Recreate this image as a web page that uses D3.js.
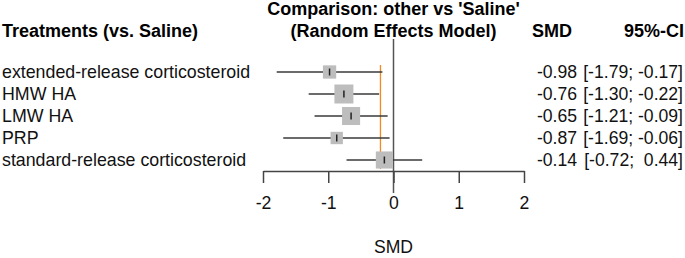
<!DOCTYPE html>
<html lang="en">
<head>
    <meta charset="UTF-8">
    <title>Forest plot - other vs Saline</title>
    <script src="https://cdn.jsdelivr.net/npm/d3@7"></script>
    <style>
        body { margin: 0; background: #fff; }
        text { font-family: "Liberation Sans", Arial, sans-serif; }
    </style>
</head>
<body>
<script type="application/javascript">

    let w = 685, h = 258;

    let treatments = ["extended-release corticosteroid", "HMW HA", "LMW HA", "PRP",
        "standard-release corticosteroid"];
    let smd = [-0.98, -0.76, -0.65, -0.87, -0.14];
    let lower = [-1.79, -1.30, -1.21, -1.69, -0.72];
    let upper = [-0.17, -0.22, -0.09, -0.06, 0.44];
    // relative box size (weight)
    let weights = [0.7, 1.0, 0.95, 0.65, 0.9];
    let xTicks = [-2, -1, 0, 1, 2];
    let refLine = -0.2;

    // plain hyphen minus, like the R output
    let fmt = function(v) { return v.toFixed(2); };
    let ciText = function(i) {
        return "[" + fmt(lower[i]) + "; " + (upper[i] >= 0 ? " " : "") + fmt(upper[i]) + "]";
    };

    //Scales
    let xScale = d3.scaleLinear()
        .domain([-2, 2])
        .range([263, 524]);

    let yScale = d3.scalePoint()
        .domain(treatments)
        .range([72, 160]);

    let boxScale = d3.scaleLinear()
        .domain([0, 1])
        .range([0, 19]);

    let svg = d3.select("body")
        .append("svg")
        .attr("width", w)
        .attr("height", h);

    // headers
    svg.append("text")
        .attr("x", 2).attr("y", 37)
        .style("font-size", "18px").style("font-weight", "bold")
        .text("Treatments (vs. Saline)");

    svg.append("text")
        .attr("x", xScale(0)).attr("y", 15)
        .attr("text-anchor", "middle")
        .style("font-size", "18px").style("font-weight", "bold")
        .text("Comparison: other vs 'Saline'");
    svg.append("text")
        .attr("x", xScale(0)).attr("y", 37)
        .attr("text-anchor", "middle")
        .style("font-size", "18px").style("font-weight", "bold")
        .text("(Random Effects Model)");

    svg.append("text")
        .attr("x", 552).attr("y", 37)
        .attr("text-anchor", "middle")
        .style("font-size", "18px").style("font-weight", "bold")
        .text("SMD");
    svg.append("text")
        .attr("x", 684).attr("y", 37)
        .attr("text-anchor", "end")
        .style("font-size", "18px").style("font-weight", "bold")
        .text("95%-CI");

    // zero line
    svg.append("line")
        .attr("x1", xScale(0)).attr("x2", xScale(0))
        .attr("y1", 39).attr("y2", 193)
        .attr("stroke", "#555").attr("stroke-width", 1.5);

    // orange reference line
    svg.append("line")
        .attr("x1", xScale(refLine)).attr("x2", xScale(refLine))
        .attr("y1", 65).attr("y2", 169)
        .attr("stroke", "#f5891f").attr("stroke-width", 1.3);

    let rows = svg.selectAll("g.row")
        .data(treatments)
        .enter()
        .append("g")
        .attr("class", "row");

    rows.append("text")
        .attr("x", 2)
        .attr("y", function(d) { return yScale(d) + 6; })
        .style("font-size", "17.8px")
        .style("fill", "#111")
        .text(function(d) { return d; });

    rows.append("line")
        .attr("x1", function(d, i) { return xScale(lower[i]); })
        .attr("x2", function(d, i) { return xScale(upper[i]); })
        .attr("y1", function(d) { return yScale(d); })
        .attr("y2", function(d) { return yScale(d); })
        .attr("stroke", "#3a3a3a").attr("stroke-width", 1.5);

    rows.append("rect")
        .attr("x", function(d, i) { return xScale(smd[i]) - boxScale(weights[i]) / 2; })
        .attr("y", function(d, i) { return yScale(d) - boxScale(weights[i]) / 2; })
        .attr("width", function(d, i) { return boxScale(weights[i]); })
        .attr("height", function(d, i) { return boxScale(weights[i]); })
        .attr("fill", "#bdbdbd");

    rows.append("line")
        .attr("x1", function(d, i) { return xScale(smd[i]); })
        .attr("x2", function(d, i) { return xScale(smd[i]); })
        .attr("y1", function(d) { return yScale(d) - 3.5; })
        .attr("y2", function(d) { return yScale(d) + 3.5; })
        .attr("stroke", "#222").attr("stroke-width", 1.5);

    rows.append("text")
        .attr("x", 577)
        .attr("y", function(d) { return yScale(d) + 6; })
        .attr("text-anchor", "end")
        .style("font-size", "17.6px")
        .style("fill", "#111")
        .text(function(d, i) { return fmt(smd[i]); });

    rows.append("text")
        .attr("x", 683)
        .attr("y", function(d) { return yScale(d) + 6; })
        .attr("text-anchor", "end")
        .attr("xml:space", "preserve")
        .style("white-space", "pre")
        .style("font-size", "17.6px")
        .style("fill", "#111")
        .text(function(d, i) { return ciText(i); });

    // x axis
    let axis = svg.append("g")
        .attr("transform", "translate(0,171)")
        .call(d3.axisBottom(xScale)
            .tickValues(xTicks)
            .tickFormat(d3.format("d"))
            .tickSize(12)
            .tickSizeOuter(0)
            .tickPadding(14));
    axis.select(".domain").attr("stroke", "#444").attr("stroke-width", 1.5);
    axis.selectAll(".tick line").attr("stroke", "#444").attr("stroke-width", 1.5);
    axis.selectAll(".tick text")
        .style("font-size", "17.6px")
        .style("font-family", "'Liberation Sans', Arial, sans-serif")
        .attr("fill", "#111")
        .text(function(d) { return String(d); });

    svg.append("text")
        .attr("x", xScale(0)).attr("y", 253)
        .attr("text-anchor", "middle")
        .style("font-size", "17.6px")
        .style("fill", "#111")
        .text("SMD");

</script>
</body>
</html>
